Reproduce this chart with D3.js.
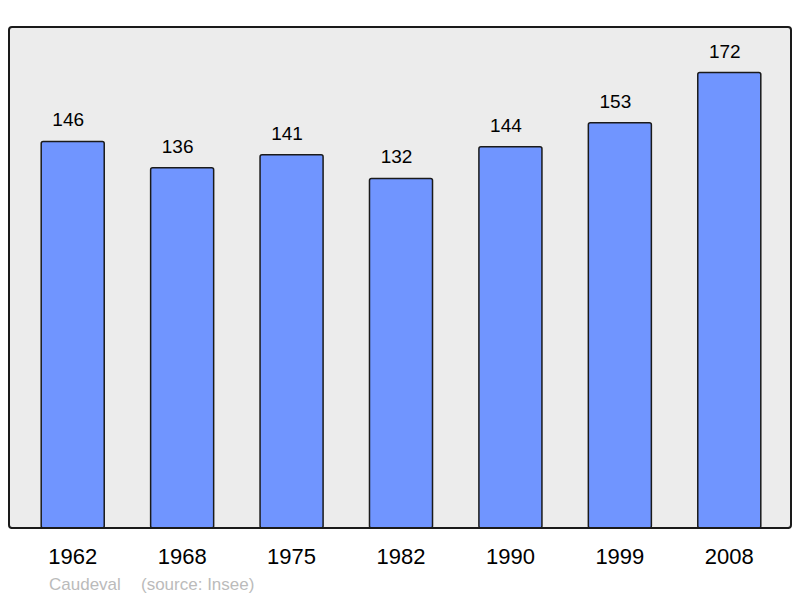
<!DOCTYPE html>
<html><head><meta charset="utf-8">
<script src="https://cdn.jsdelivr.net/npm/d3@7"></script>
<style>body{margin:0;background:#fff;}svg{display:block;font-family:"Liberation Sans",Arial,sans-serif;}</style>
</head><body>
<svg id="c" width="800" height="598"></svg>
<script>
const years = ["1962","1968","1975","1982","1990","1999","2008"];
const population = [146,136,141,132,144,153,172];
const footerName = "Caudeval";
const footerSource = "(source: Insee)";

const svg = d3.select("#c");
const plot = {left: 9, top: 27, right: 791, bottom: 528};

svg.append("rect").attr("x",plot.left).attr("y",plot.top)
  .attr("width",plot.right-plot.left).attr("height",plot.bottom-plot.top)
  .attr("rx",3).attr("fill","#ececec").attr("stroke","#1a1a1a").attr("stroke-width",2);

const x = d3.scaleBand().domain(years).range([18,784]).paddingInner(0.424).paddingOuter(0.212);
const y = d3.scaleLinear().domain([0, d3.max(population)*1.1]).range([plot.bottom, plot.top]);

const data = years.map((yr,i)=>({yr, v: population[i]}));

svg.append("g").selectAll("rect").data(data).join("rect")
  .attr("x",d=>x(d.yr)).attr("y",d=>y(d.v))
  .attr("width",x.bandwidth()).attr("height",d=>plot.bottom - y(d.v))
  .attr("rx",2).attr("fill","#7095ff").attr("stroke","#1a1a1a").attr("stroke-width",1.5);

svg.append("line").attr("x1",plot.left+2).attr("x2",plot.right-2)
  .attr("y1",plot.bottom).attr("y2",plot.bottom).attr("stroke","#1a1a1a").attr("stroke-width",2);

svg.append("g").selectAll("text").data(data).join("text")
  .attr("x",d=>x(d.yr)+x.bandwidth()/2-4.5).attr("y",d=>y(d.v)-15)
  .attr("text-anchor","middle").attr("font-size",19).attr("fill","#000")
  .text(d=>d.v);

const xAxis = d3.axisBottom(x).tickSize(0).tickPadding(0);
const ax = svg.append("g").attr("transform",`translate(0,${plot.bottom})`).call(xAxis);
ax.select(".domain").remove();
ax.selectAll("text").attr("font-size",22).attr("fill","#000")
  .attr("font-family","'Liberation Sans',Arial,sans-serif").attr("dy",null).attr("y",36);

svg.append("text").attr("x",49).attr("y",590).attr("font-size",17).attr("fill","#bbbbbb")
  .text(footerName);
svg.append("text").attr("x",141).attr("y",590).attr("font-size",17).attr("fill","#bbbbbb")
  .text(footerSource);
</script>
</body></html>
